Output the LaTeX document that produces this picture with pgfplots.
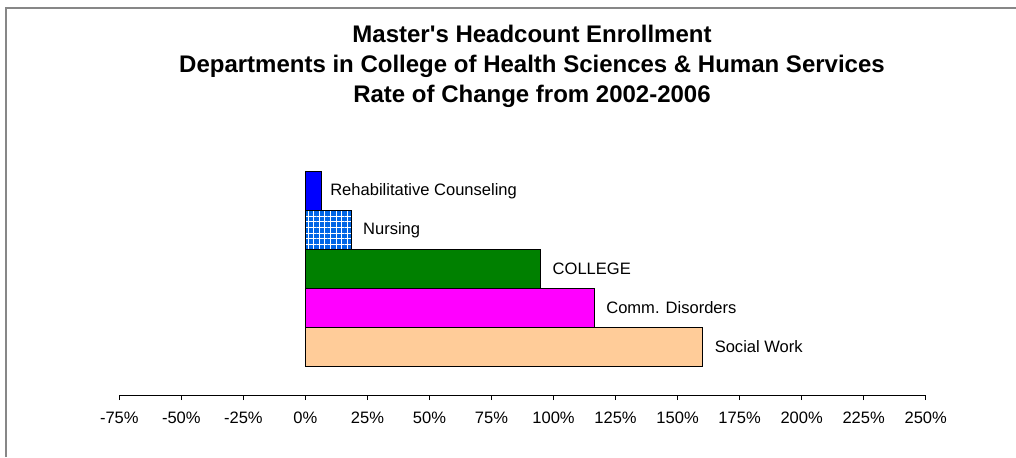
\documentclass[border=0pt]{standalone}
\usepackage{fontspec}
\setmainfont{Liberation Sans}
\newfontfamily\arial{Liberation Sans}
\usepackage{pgfplots}
\pgfplotsset{compat=1.18}
\usetikzlibrary{patterns.meta}
\definecolor{rehab}{RGB}{0,0,255}
\definecolor{nursing}{RGB}{0,102,230}
\definecolor{college}{RGB}{0,128,0}
\definecolor{comm}{RGB}{255,0,255}
\definecolor{social}{RGB}{255,204,153}
\definecolor{frame}{RGB}{135,135,135}
\begin{document}
\begin{tikzpicture}
\path[use as bounding box] (0,0) rectangle (762pt,-342.75pt);
\draw[line width=1.5pt, frame] (4.5pt,-342.75pt) -- (4.5pt,-6pt) -- (762pt,-6pt);
\node[anchor=base, font=\arial\fontsize{18}{20}\selectfont\bfseries] at (399pt,-31.5pt) {Master's Headcount Enrollment};
\node[anchor=base, font=\arial\fontsize{18}{20}\selectfont\bfseries] at (399pt,-54.6pt) {Departments in College of Health Sciences \& Human Services};
\node[anchor=base, font=\arial\fontsize{18}{20}\selectfont\bfseries] at (399pt,-76.5pt) {Rate of Change from 2002-2006};
\begin{axis}[
  at={(89.475pt,-296.25pt)}, anchor=south west,
  scale only axis, width=604.8pt, height=170.56pt,
  xmin=-75, xmax=250, ymin=-1.231, ymax=4.6,
  axis x line=bottom, axis y line=none,
  axis line style={-, line width=0.75pt, black},
  xtick={-75,-50,-25,0,25,50,75,100,125,150,175,200,225,250},
  xticklabels={-75\%,-50\%,-25\%,0\%,25\%,50\%,75\%,100\%,125\%,150\%,175\%,200\%,225\%,250\%},
  tick align=outside, major tick length=3.75pt,
  xtick style={line width=0.6pt, black},
  xticklabel style={font=\fontsize{12.4}{14}\selectfont, inner sep=0pt, yshift=-9pt},
  xbar, bar width=1, bar shift=0pt,
  nodes near coords, point meta=explicit symbolic,
  every node near coord/.append style={anchor=west, inner sep=0pt, xshift=8.5pt, font=\fontsize{12.4}{14}\selectfont, text=black},
  clip=false,
]
\addplot[fill=rehab, draw=black, line width=0.8pt, every node near coord/.append style={xshift=-2.5pt}] coordinates {(6.6,4) [Rehabilitative Counseling]};
\addplot[fill=nursing, draw=black, line width=0.8pt, postaction={pattern={Hatch[distance=4.2pt,line width=0.7pt]}, pattern color=white}] coordinates {(18.5,3) [Nursing]};
\addplot[fill=college, draw=black, line width=0.8pt] coordinates {(94.9,2) [COLLEGE]};
\addplot[fill=comm, draw=black, line width=0.8pt] coordinates {(116.5,1) [Comm. Disorders]};
\addplot[fill=social, draw=black, line width=0.8pt] coordinates {(160.2,0) [Social Work]};
\end{axis}
\end{tikzpicture}
\end{document}
